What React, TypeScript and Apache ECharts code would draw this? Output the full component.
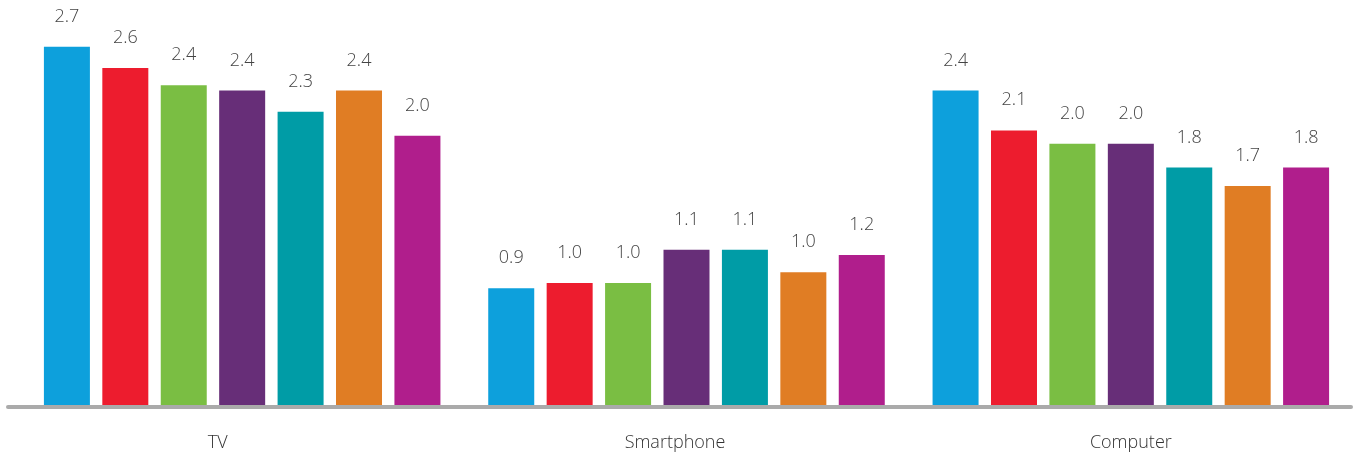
import React, { useEffect, useRef } from "react";
import * as echarts from "echarts";

const categories = ["TV", "Smartphone", "Computer"];
const seriesNames = ["Series 1", "Series 2", "Series 3", "Series 4", "Series 5", "Series 6", "Series 7"];
const colors = ["#0DA0DC", "#ED1C2E", "#7ABE43", "#672E78", "#009CA6", "#E07D24", "#B01E8C"];

// bar heights per series (TV, Smartphone, Computer)
const s1 = [2.7, 0.88, 2.37];
const s2 = [2.54, 0.92, 2.07];
const s3 = [2.41, 0.92, 1.97];
const s4 = [2.37, 1.17, 1.97];
const s5 = [2.21, 1.17, 1.79];
const s6 = [2.37, 1.0, 1.65];
const s7 = [2.03, 1.13, 1.79];

// printed labels per series
const l1 = ["2.7", "0.9", "2.4"];
const l2 = ["2.6", "1.0", "2.1"];
const l3 = ["2.4", "1.0", "2.0"];
const l4 = ["2.4", "1.1", "2.0"];
const l5 = ["2.3", "1.1", "1.8"];
const l6 = ["2.4", "1.0", "1.7"];
const l7 = ["2.0", "1.2", "1.8"];

const values = [s1, s2, s3, s4, s5, s6, s7];
const labels = [l1, l2, l3, l4, l5, l6, l7];

const FONT = "'Open Sans', sans-serif";
const catStyle = { fontSize: 18, fontFamily: FONT, fontWeight: 300, color: "#333" };

export default function App() {
  const ref = useRef<HTMLDivElement>(null);
  useEffect(() => {
    if (!ref.current) return;
    const chart = echarts.init(ref.current, undefined, { renderer: "svg" });
    chart.setOption({
      animation: false,
      grid: { left: 20, right: 6, top: 7, bottom: 50, containLabel: false },
      xAxis: {
        type: "category",
        data: categories,
        axisLine: { show: false },
        axisTick: { show: false },
        axisLabel: {
          margin: 27,
          ...catStyle,
          formatter: (v: string, i: number) => ["{a|" + v + "}", "{b|" + v + "}", "{c|" + v + "}"][i],
          rich: {
            a: { ...catStyle, padding: [0, 49, 0, 0] },
            b: { ...catStyle, padding: [0, 23, 0, 0] },
            c: { ...catStyle, padding: [0, 0, 0, 0] },
          },
        },
      },
      yAxis: { type: "value", min: 0, max: 3, show: false, splitLine: { show: false } },
      graphic: [
        {
          type: "line",
          shape: { x1: 8, y1: 407, x2: 1351, y2: 407 },
          style: { stroke: "#aaaaaa", lineWidth: 4, lineCap: "round" },
          z: 10,
        },
      ],
      series: values.map((v, i) => ({
        name: seriesNames[i],
        type: "bar",
        data: v,
        barWidth: 46,
        barGap: "27%",
        itemStyle: { color: colors[i] },
        label: {
          show: true,
          position: "top",
          distance: 23,
          fontSize: 18,
          fontFamily: FONT,
          fontWeight: 300,
          color: "#444",
          formatter: (p: any) => labels[i][p.dataIndex],
        },
      })),
    });
    return () => chart.dispose();
  }, []);
  return <div ref={ref} style={{ position: "fixed", left: 0, top: 0, width: 1359, height: 455 }} />;
}
